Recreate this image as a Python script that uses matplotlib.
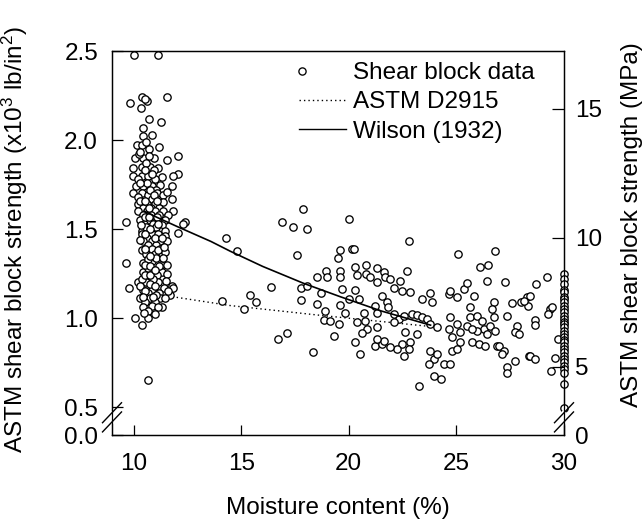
import matplotlib
matplotlib.use("Agg")
import matplotlib.pyplot as plt
from matplotlib.lines import Line2D
from matplotlib.legend_handler import HandlerLine2D

plt.rcParams['font.family'] = ['Liberation Sans', 'DejaVu Sans']
plt.rcParams['mathtext.fontset'] = 'custom'
plt.rcParams['mathtext.rm'] = 'Liberation Sans'
plt.rcParams['mathtext.it'] = 'Liberation Sans'
plt.rcParams['mathtext.default'] = 'rm'

# ---------------- data ----------------
# shear block data: moisture content (%) and strength (x10^3 lb/in^2)
cluster_pts = [
    (10.02, 2.48), (11.14, 2.48),
    (9.84, 2.21), (10.40, 2.24), (10.63, 2.22), (10.35, 2.18), (11.56, 2.24), (10.52, 2.23),
    (10.72, 2.12), (11.28, 2.10), (10.44, 2.07),
    (10.86, 2.03), (10.44, 2.02), (10.16, 1.97), (10.40, 1.97), (10.72, 1.95), (11.19, 1.96), (10.60, 1.99),
    (10.07, 1.90), (10.44, 1.90), (10.95, 1.90), (11.56, 1.89), (12.07, 1.91), (10.25, 1.92), (10.70, 1.91),
    (9.98, 1.84), (10.40, 1.85), (10.77, 1.85), (11.14, 1.84), (12.07, 1.81), (10.60, 1.87), (10.95, 1.83),
    (9.98, 1.80), (10.40, 1.80), (10.67, 1.80), (11.33, 1.79), (11.84, 1.80), (10.20, 1.78), (11.00, 1.78), (10.85, 1.81),
    (10.12, 1.74), (10.44, 1.74), (10.86, 1.74), (11.23, 1.75), (11.79, 1.74), (10.62, 1.76), (11.05, 1.72),
    (9.98, 1.70), (10.40, 1.70), (10.67, 1.69), (11.09, 1.70), (11.37, 1.69), (10.20, 1.68), (10.85, 1.67), (11.55, 1.71),
    (10.21, 1.64), (10.63, 1.64), (11.00, 1.64), (11.37, 1.65), (11.79, 1.67), (10.42, 1.62), (10.82, 1.62), (11.20, 1.62),
    (10.21, 1.60), (10.63, 1.60), (11.00, 1.60), (11.37, 1.60), (11.84, 1.60), (10.42, 1.58), (10.82, 1.58), (11.20, 1.58), (11.60, 1.58),
    (9.65, 1.54), (10.30, 1.55), (10.67, 1.55), (11.09, 1.55), (11.47, 1.55), (12.40, 1.54), (10.50, 1.53), (10.90, 1.53), (11.30, 1.52), (12.30, 1.53),
    (10.40, 1.49), (10.86, 1.49), (11.23, 1.49), (12.07, 1.48), (10.60, 1.51), (11.05, 1.51), (11.45, 1.49),
    (10.40, 1.47), (10.86, 1.47), (11.14, 1.47), (11.47, 1.46), (10.62, 1.45),
    (10.44, 1.43), (10.86, 1.43), (11.23, 1.43), (11.56, 1.43), (10.65, 1.41), (11.05, 1.41),
    (10.40, 1.38), (10.86, 1.39), (11.23, 1.39), (11.47, 1.37), (10.60, 1.36), (11.00, 1.36),
    (9.65, 1.31), (10.44, 1.31), (10.86, 1.32), (11.28, 1.30), (11.56, 1.30), (10.65, 1.33), (11.05, 1.34),
    (10.44, 1.26), (10.86, 1.27), (11.33, 1.26), (10.65, 1.28), (11.10, 1.24), (11.55, 1.25),
    (10.21, 1.20), (10.58, 1.20), (11.14, 1.20), (11.51, 1.21), (11.79, 1.18), (10.90, 1.22), (10.40, 1.22),
    (9.79, 1.17), (10.44, 1.16), (10.86, 1.16), (11.42, 1.17), (11.84, 1.17), (10.65, 1.14), (11.20, 1.14),
    (10.30, 1.11), (10.77, 1.11), (11.23, 1.11), (11.70, 1.13), (10.55, 1.09), (11.00, 1.09),
    (10.44, 1.06), (10.86, 1.07), (11.33, 1.06), (10.65, 1.04),
    (10.07, 1.00), (10.67, 1.00), (10.40, 0.96),
    (10.67, 0.65),
    # denser overlap inside the main cluster
    (10.30, 1.93), (10.55, 1.83), (10.30, 1.76), (10.75, 1.72), (10.95, 1.69), (10.30, 1.66),
    (10.52, 1.66), (10.72, 1.62), (11.10, 1.66), (10.52, 1.57), (10.74, 1.57), (11.10, 1.57),
    (10.35, 1.52), (10.75, 1.50), (11.15, 1.53), (10.52, 1.47), (10.98, 1.45), (11.32, 1.45),
    (10.55, 1.39), (10.75, 1.35), (11.12, 1.38), (10.52, 1.30), (10.76, 1.29), (11.18, 1.29),
    (10.55, 1.24), (10.76, 1.24), (11.00, 1.27), (10.30, 1.18), (10.75, 1.19), (11.00, 1.18),
    (10.55, 1.15), (11.05, 1.13), (11.45, 1.11), (10.45, 1.12), (10.90, 1.12), (11.15, 1.06),
    (10.50, 1.03), (10.98, 1.02), (11.62, 1.15), (11.35, 1.34), (11.40, 1.40), (10.30, 1.44),
]
spread_pts = [
    (14.30, 1.45), (14.80, 1.378), (14.10, 1.097), (15.11, 1.05), (15.42, 1.13), (15.70, 1.09), (16.38, 1.176),
    (16.89, 1.538), (17.40, 1.51), (17.87, 1.612), (18.08, 1.50), (19.99, 1.556), (17.59, 1.354),
    (19.60, 1.38), (19.50, 1.34), (20.15, 1.39), (20.26, 1.39), (22.78, 1.434), (25.08, 1.36), (26.78, 1.378),
    (26.12, 1.285), (26.47, 1.30), (17.79, 1.167), (18.08, 1.18), (17.79, 1.10), (18.52, 1.23), (18.70, 1.14),
    (18.52, 1.08), (18.95, 1.266), (19.01, 1.23), (18.91, 1.04), (18.83, 0.99), (19.14, 0.985), (19.53, 0.966),
    (19.60, 1.266), (19.60, 1.23), (19.68, 1.163), (19.60, 1.073), (19.84, 1.03), (19.99, 1.107),
    (20.30, 1.285), (20.38, 1.24), (20.30, 1.16), (20.46, 1.107), (20.81, 1.30), (20.81, 1.25), (21.00, 1.23),
    (21.31, 1.28), (21.31, 1.20), (21.62, 1.26), (21.70, 1.23), (21.93, 1.22), (22.12, 1.17), (22.40, 1.21),
    (22.71, 1.266), (22.47, 1.153), (22.86, 1.148), (21.54, 1.125), (21.78, 1.088), (21.20, 1.069), (21.31, 1.03),
    (21.31, 0.948), (20.69, 1.03), (20.74, 0.985), (20.38, 0.98), (20.84, 0.94), (20.60, 0.916), (20.30, 0.863),
    (20.53, 0.80), (19.33, 0.90), (18.34, 0.807), (16.71, 0.882), (17.12, 0.914), (21.80, 1.06), (22.08, 1.02),
    (22.32, 0.994), (22.08, 0.976), (22.55, 1.013), (22.94, 1.02), (23.17, 1.017), (23.40, 1.004), (23.63, 0.994),
    (23.40, 1.107), (23.79, 1.139), (23.87, 1.088), (23.79, 0.966), (24.10, 0.948), (22.63, 0.923), (23.17, 0.91),
    (22.86, 0.863), (22.47, 0.854), (22.78, 0.826), (22.24, 0.826), (22.55, 0.788), (21.23, 0.844), (21.54, 0.854),
    (21.62, 0.873), (21.93, 0.835), (21.31, 0.882), (23.25, 0.62), (23.79, 0.816), (23.95, 0.77), (23.71, 0.742),
    (23.95, 0.676), (24.29, 0.657), (24.41, 0.742), (24.10, 0.80), (24.72, 0.742), (24.80, 0.816), (24.72, 1.004),
    (24.64, 0.938), (25.03, 0.966), (24.80, 0.895), (25.19, 0.92), (25.19, 0.863), (25.03, 0.826), (24.64, 1.135),
    (24.72, 1.153), (25.03, 1.116), (25.34, 1.163), (25.50, 1.195), (25.81, 1.125), (25.65, 1.06), (25.65, 1.004),
    (25.50, 0.957), (25.96, 1.013), (25.73, 0.863), (26.04, 0.854), (26.35, 0.844), (26.20, 0.985), (26.27, 0.938),
    (26.74, 1.088), (26.66, 1.05), (26.74, 1.004), (26.43, 0.91), (26.89, 0.844), (26.40, 1.21), (27.28, 1.20),
    (27.59, 1.084), (27.98, 1.088), (28.26, 1.116), (28.33, 1.069), (27.33, 1.013), (27.82, 0.957), (27.71, 0.923),
    (27.90, 0.91), (26.97, 0.844), (27.20, 0.816), (27.13, 0.798), (27.74, 0.76), (27.33, 0.723), (27.33, 0.69),
    (28.37, 0.788), (29.19, 1.23), (28.71, 1.19), (28.13, 1.097), (28.44, 1.125), (26.58, 0.957), (26.81, 0.929),
    (25.96, 0.929), (25.73, 0.938), (28.63, 0.99), (28.63, 0.96), (28.41, 0.788), (28.63, 0.77), (29.37, 1.05),
    (29.25, 1.02), (29.45, 1.06), (29.71, 0.882), (29.60, 0.774), (29.40, 0.704),
]
edge_strength = [1.25, 1.22, 1.19, 1.16, 1.144, 1.12, 1.107, 1.09, 1.069, 1.05, 1.032, 1.01, 0.994,
                 0.98, 0.966, 0.95, 0.929, 0.91, 0.891, 0.875, 0.863, 0.845, 0.826, 0.81, 0.788, 0.77,
                 0.751, 0.73, 0.713, 0.69, 0.629, 0.494]
edge_moisture = [30.0] * len(edge_strength)

moisture = [p[0] for p in cluster_pts + spread_pts] + edge_moisture
strength = [p[1] for p in cluster_pts + spread_pts] + edge_strength

# ASTM D2915 adjustment (dotted) and Wilson (1932) (solid)
astm_mc = [11.8, 14.5, 18.7, 24.0]
astm_str = [1.12, 1.07, 1.015, 0.95]
wilson_mc = [10.5, 11.1, 12.1, 13.6, 14.5, 16.0, 17.9, 19.6, 21.5, 23.8]
wilson_str = [1.60, 1.565, 1.51, 1.43, 1.375, 1.29, 1.195, 1.12, 1.04, 0.96]

x_ticks = [10, 15, 20, 25, 30]
y_bottom = 0.343
y_ticks = [y_bottom, 0.5, 1.0, 1.5, 2.0, 2.5]
y_ticklabels = ['0.0', '0.5', '1.0', '1.5', '2.0', '2.5']
mpa_ticks = [5, 10, 15]
KSI_PER_MPA = 0.145038


class LeftMarkerHandler(HandlerLine2D):
    """Legend handler drawing a single marker at the left end of the handle."""
    def create_artists(self, legend, orig_handle, xdescent, ydescent, width,
                       height, fontsize, trans):
        arts = super().create_artists(legend, orig_handle, xdescent, ydescent,
                                      width, height, fontsize, trans)
        for a in arts:
            xd = list(a.get_xdata())
            yd = list(a.get_ydata())
            a.set_markevery(None)
            a.set_xdata([xd[0] + 0.12 * fontsize])
            a.set_ydata([yd[0]])
        return arts


# ---------------- figure ----------------
fig = plt.figure(figsize=(6.43, 5.23), dpi=100)
ax = fig.add_axes([112 / 643, 1 - 435 / 523, 452 / 643, 384 / 523])

FS = 17.5
lw = 0.9

ax.scatter(moisture, strength, s=28, facecolors='white', edgecolors='black',
           linewidths=0.95, zorder=3, clip_on=False)
ax.plot(astm_mc, astm_str, color='black', linestyle=(0, (1, 2.2)), linewidth=1.0, zorder=2)
ax.plot(wilson_mc, wilson_str, color='black', linestyle='-', linewidth=1.2, zorder=4)

ax.set_xlim(9, 30)
ax.set_ylim(y_bottom, 2.5)
ax.set_xticks(x_ticks)
ax.set_yticks(y_ticks)
ax.set_yticklabels(y_ticklabels)
for sp in ax.spines.values():
    sp.set_linewidth(lw)
ax.tick_params(axis='both', direction='in', labelsize=FS, width=lw)
ax.tick_params(axis='y', length=8, pad=10)
ax.tick_params(axis='x', length=7, pad=13)
for t in ax.yaxis.get_major_ticks()[:2]:
    t.tick1line.set_visible(False)

ax.set_xlabel('Moisture content (%)', fontsize=FS, labelpad=16)
ax.set_ylabel(r'ASTM shear block strength (x10$^3$ lb/in$^2$)', fontsize=FS)
ax.yaxis.set_label_coords(-82 / 452, 0.508)

# right axis in MPa
ax2 = ax.twinx()
ax2.set_ylim(ax.get_ylim())
ax2.set_yticks([y_bottom] + [m * KSI_PER_MPA for m in mpa_ticks])
ax2.set_yticklabels(['0'] + [str(m) for m in mpa_ticks])
ax2.tick_params(axis='y', direction='in', length=9, width=lw, labelsize=FS, pad=8)
ax2.yaxis.get_major_ticks()[0].tick2line.set_visible(False)
for sp in ax2.spines.values():
    sp.set_linewidth(lw)
ax2.set_ylabel('ASTM shear block strength (MPa)', fontsize=FS, rotation=90)
ax2.yaxis.set_label_coords(1 + 57 / 452, 0.547)

# axis-break marks on both vertical spines
for x0 in (0.0, 1.0):
    ax.plot([x0, x0], [0.033, 0.056], transform=ax.transAxes, color='white',
            linewidth=3, clip_on=False, zorder=5)
    for dy in (0.0, 0.024):
        ax.plot([x0 - 0.021, x0 + 0.021], [0.008 + dy, 0.06 + dy], transform=ax.transAxes,
                color='black', linewidth=1.0, clip_on=False, zorder=6)

# legend
h_data = Line2D([], [], linestyle='none', marker='o', markersize=5.2,
                markerfacecolor='white', markeredgecolor='black', markeredgewidth=0.95)
h_astm = Line2D([], [], color='black', linestyle=(0, (1, 2.2)), linewidth=1.0)
h_wil = Line2D([], [], color='black', linestyle='-', linewidth=1.0)
leg = ax.legend([h_data, h_astm, h_wil], ['Shear block data', 'ASTM D2915', 'Wilson (1932)'],
                loc='upper left', bbox_to_anchor=(299 / 643, 1 - 62 / 523),
                bbox_transform=fig.transFigure, frameon=False, fontsize=FS,
                handlelength=1.95, handletextpad=0.26, labelspacing=0.3, borderpad=0,
                borderaxespad=0, handler_map={h_data: LeftMarkerHandler(numpoints=1)})

fig.savefig('out.png', dpi=100)
